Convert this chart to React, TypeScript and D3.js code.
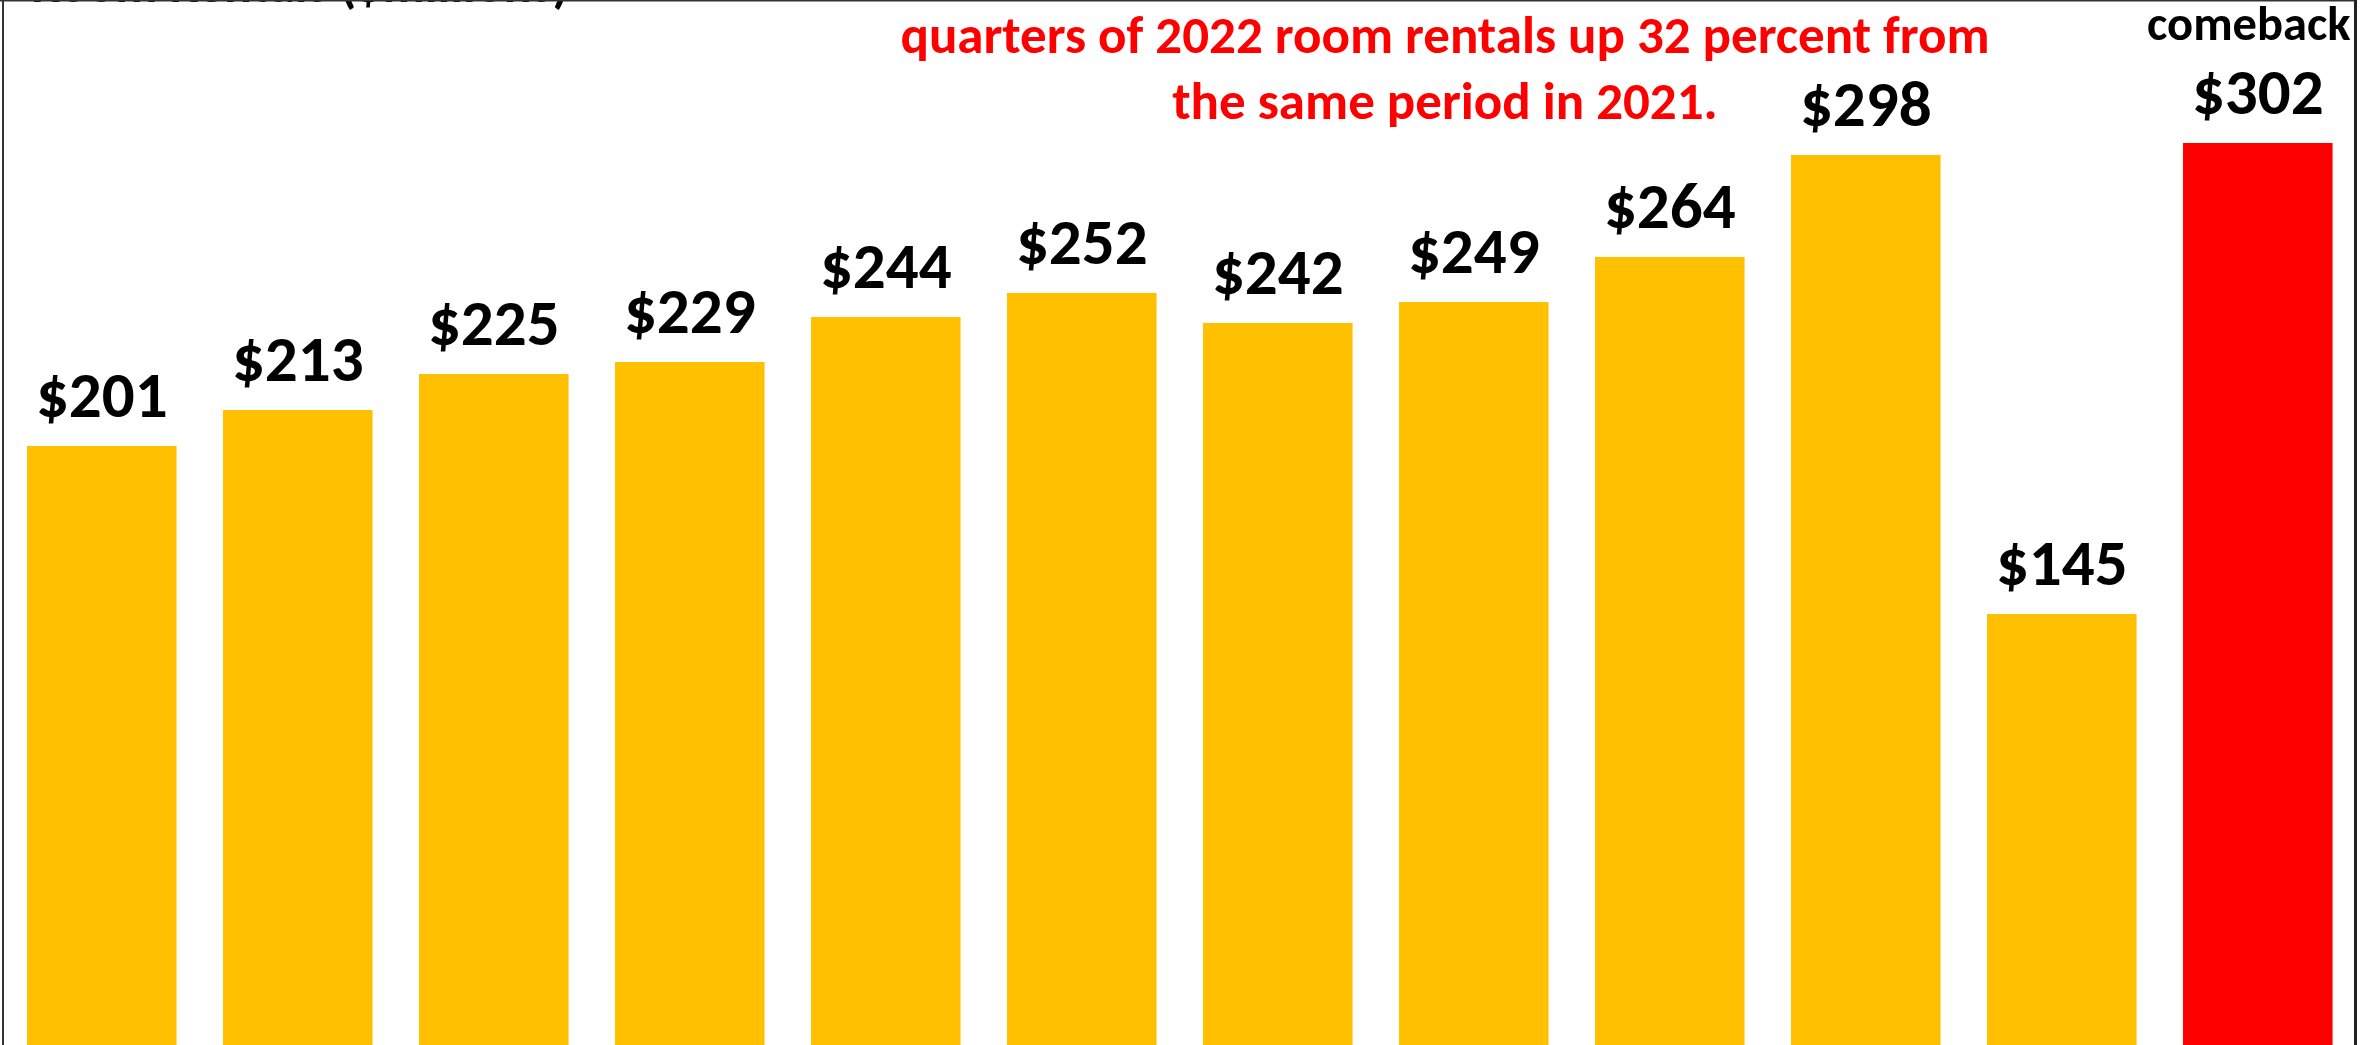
import React from "react";
import * as d3 from "d3";

const categories = ["2011", "2012", "2013", "2014", "2015", "2016", "2017", "2018", "2019", "2020", "2021", "2022"];
const values = [201, 213, 225, 229, 244, 252, 242, 249, 264, 298, 145, 302];
const highlight = [false, false, false, false, false, false, false, false, false, false, false, true];
const titleText = "Room Rentals ($millions)";
const noteLines = ["quarters of 2022 room rentals up 32 percent from", "the same period in 2021."];
const highlightNote = "comeback";

const W = 2369;
const H = 1045;
const FONT = "Carlito, Calibri, 'Open Sans', 'Liberation Sans', sans-serif";

export default function App() {
  const x = d3.scaleBand<string>().domain(categories).range([3.8, 2355.8]).paddingInner(0.237).paddingOuter(0.1185);
  const baseline = 1049;
  const y = d3.scaleLinear().domain([0, 350]).range([baseline, baseline - 1050]);
  const fmt = (v: number) => "$" + d3.format("d")(v);
  const last = categories[categories.length - 1];
  const lastCenter = (x(last) as number) + x.bandwidth() / 2;
  return (
    <svg width={W} height={H} style={{ position: "absolute", left: 0, top: 0, display: "block", background: "#fff" }}>
      <rect x={0} y={0} width={W} height={H} fill="#fff" />
      {categories.map((c, i) => (
        <g key={c}>
          <rect x={x(c)} y={y(values[i])} width={x.bandwidth()} height={baseline - y(values[i])} fill={highlight[i] ? "#FF0000" : "#FFC000"} />
          <text x={(x(c) as number) + x.bandwidth() / 2} y={y(values[i]) - 29} textAnchor="middle" fontFamily={FONT} fontWeight="bold" fontSize={65} fill="#000">
            {fmt(values[i])}
          </text>
        </g>
      ))}
      <text x={31} y={2} fontFamily={FONT} fontWeight="bold" fontSize={52} fill="#000">{titleText}</text>
      {noteLines.map((t, i) => (
        <text key={i} x={1445} y={53 + i * 66} textAnchor="middle" fontFamily={FONT} fontWeight="bold" fontSize={53} fill="#FF0000">{t}</text>
      ))}
      <text x={lastCenter - 9} y={40} textAnchor="middle" fontFamily={FONT} fontWeight="bold" fontSize={48.5} fill="#000">{highlightNote}</text>
      <line x1={0} x2={2357} y1={0.5} y2={0.5} stroke="#333" strokeWidth={2} />
      <line x1={3} x2={3} y1={0} y2={H} stroke="#333" strokeWidth={2} />
      <line x1={2355.5} x2={2355.5} y1={0} y2={H} stroke="#222" strokeWidth={3} />
    </svg>
  );
}
